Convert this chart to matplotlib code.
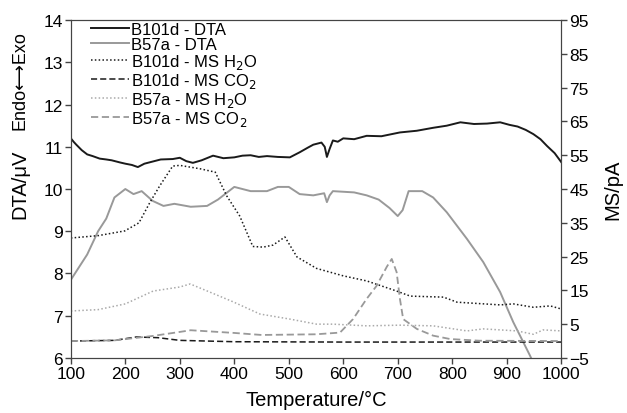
import matplotlib.pyplot as plt

plt.rcParams['font.family'] = ['Liberation Sans', 'DejaVu Sans']

# B101d DTA (left axis, uV)
t_b101_dta = [100, 105, 110, 120, 130, 140, 153, 165, 175, 190, 200, 212, 223, 235, 250, 265, 287, 300, 312, 324, 340, 361, 380, 400, 415, 430, 445, 460, 480, 502, 520, 535, 545, 560, 566, 570, 575, 581, 590, 600, 620, 643, 670, 704, 735, 765, 790, 815, 840, 864, 888, 905, 920, 935, 949, 962, 974, 988, 1000]
v_b101_dta = [11.2, 11.12, 11.05, 10.92, 10.82, 10.78, 10.72, 10.7, 10.68, 10.63, 10.6, 10.57, 10.52, 10.6, 10.65, 10.7, 10.71, 10.74, 10.66, 10.62, 10.68, 10.79, 10.73, 10.75, 10.79, 10.8, 10.76, 10.78, 10.76, 10.75, 10.87, 10.98, 11.05, 11.1, 11.0, 10.76, 10.95, 11.15, 11.12, 11.2, 11.18, 11.26, 11.25, 11.34, 11.38, 11.45, 11.5, 11.58, 11.54, 11.55, 11.58, 11.52, 11.48, 11.4, 11.3, 11.18, 11.02, 10.85, 10.64]

# B57a DTA (left axis, uV)
t_b57_dta = [100, 115, 130, 150, 165, 180, 200, 215, 230, 250, 270, 290, 320, 350, 370, 385, 400, 430, 460, 480, 500, 520, 545, 565, 570, 575, 581, 620, 643, 665, 685, 700, 709, 720, 745, 765, 790, 827, 857, 888, 912, 943, 955]
v_b57_dta = [7.85, 8.15, 8.45, 9.0, 9.3, 9.8, 10.0, 9.88, 9.95, 9.72, 9.6, 9.65, 9.58, 9.6, 9.75, 9.9, 10.05, 9.95, 9.95, 10.05, 10.05, 9.88, 9.85, 9.9, 9.69, 9.85, 9.95, 9.92, 9.85, 9.75, 9.55, 9.36, 9.5, 9.95, 9.95, 9.8, 9.45, 8.82, 8.27, 7.56, 6.85, 6.05, 5.7]

# B101d MS H2O (right axis, pA)
t_b101_h2o = [100, 150, 199, 225, 245, 263, 287, 300, 337, 365, 386, 410, 434, 453, 471, 493, 515, 551, 600, 643, 698, 723, 784, 809, 888, 912, 949, 980, 1000]
v_b101_h2o = [30.5, 31.2, 32.6, 35.0, 41.0, 45.9, 51.8, 52.0, 51.0, 50.0, 43.0, 37.0, 28.0, 27.8, 28.4, 30.8, 24.9, 21.5, 19.3, 17.8, 14.8, 13.3, 13.0, 11.5, 10.7, 11.0, 10.0, 10.4, 9.5]

# B57a MS H2O (right axis, pA)
t_b57_h2o = [100, 150, 200, 251, 300, 319, 355, 398, 447, 502, 551, 581, 643, 704, 765, 827, 857, 919, 949, 967, 1000]
v_b57_h2o = [8.9, 9.3, 11.0, 14.8, 16.0, 16.9, 14.5, 11.6, 8.0, 6.5, 5.0, 5.0, 4.5, 4.7, 4.5, 3.0, 3.6, 3.0, 2.0, 3.3, 3.0]

# B101d MS CO2 (right axis, pA)
t_b101_co2 = [100, 180, 220, 260, 300, 400, 600, 800, 1000]
v_b101_co2 = [0.0, 0.2, 1.2, 1.0, 0.2, -0.2, -0.3, -0.3, -0.3]

# B57a MS CO2 (right axis, pA)
t_b57_co2 = [100, 180, 250, 300, 320, 400, 450, 500, 550, 594, 618, 643, 661, 680, 689, 698, 704, 710, 735, 765, 796, 850, 1000]
v_b57_co2 = [0.0, 0.2, 1.5, 2.7, 3.2, 2.4, 1.8, 1.9, 2.0, 2.5, 6.5, 12.5, 16.3, 22.0, 24.3, 20.4, 12.5, 6.5, 3.6, 1.6, 0.6, 0.1, 0.0]

black = '#1a1a1a'
grey = '#999999'
lgrey = '#aaaaaa'
spine = '#444444'

fig = plt.figure(figsize=(6.27, 4.14), dpi=100)
ax = fig.add_axes([0.113, 0.133, 0.782, 0.816])
ax2 = ax.twinx()

l1, = ax.plot(t_b101_dta, v_b101_dta, color=black, lw=1.4, label='B101d - DTA')
l2, = ax.plot(t_b57_dta, v_b57_dta, color=grey, lw=1.4, label='B57a - DTA')
l3, = ax2.plot(t_b101_h2o, v_b101_h2o, color=black, lw=1.1, ls=(0, (1, 1.5)), label='B101d - MS H$_2$O')
l4, = ax2.plot(t_b101_co2, v_b101_co2, color=black, lw=1.1, ls=(0, (4, 2)), label='B101d - MS CO$_2$')
l5, = ax2.plot(t_b57_h2o, v_b57_h2o, color=lgrey, lw=1.1, ls=(0, (1, 1.5)), label='B57a - MS H$_2$O')
l6, = ax2.plot(t_b57_co2, v_b57_co2, color=grey, lw=1.3, ls=(0, (4, 2)), label='B57a - MS CO$_2$')

ax.set_xlim(100, 1000)
ax.set_ylim(6, 14)
ax2.set_ylim(-5, 95)
ax.set_xticks(range(100, 1001, 100))
ax.set_yticks(range(6, 15))
ax2.set_yticks(range(-5, 96, 10))
ax2.set_yticklabels(['\u22125'] + [str(v) for v in range(5, 96, 10)])

for a in (ax, ax2):
    for s in a.spines.values():
        s.set_color(spine)
    a.tick_params(direction='out', length=4, width=1, color=spine, labelsize=12.5, pad=2)

ax.set_xlabel('Temperature/\u00b0C', fontsize=14.5, labelpad=6)
ax2.set_ylabel('MS/pA', fontsize=14.5, labelpad=10)
fig.text(0.032, 0.555, 'DTA/\u03bcV', rotation=90, fontsize=14.5, ha='center', va='center')
fig.text(0.032, 0.805, 'Endo\u27f7Exo', rotation=90, fontsize=13, ha='center', va='center')

leg = ax.legend(handles=[l1, l2, l3, l4, l5, l6], loc='upper left', bbox_to_anchor=(0.02, 1.025),
                frameon=False, fontsize=12, handlelength=2.3, handletextpad=0.15,
                labelspacing=0.0, borderaxespad=0.2)

fig.savefig('out.png', dpi=100)
